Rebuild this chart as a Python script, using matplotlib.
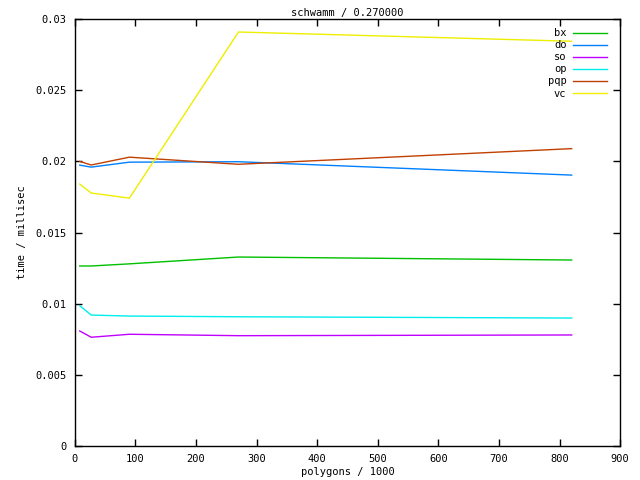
import matplotlib
matplotlib.use("Agg")
import matplotlib.pyplot as plt

# polygons (x 1000) and timings per method
polygons = [8, 27, 90, 270, 820]
bx = [0.01265, 0.01265, 0.01280, 0.01328, 0.01307]
do = [0.01974, 0.01960, 0.01995, 0.01998, 0.01904]
so = [0.00808, 0.00764, 0.00785, 0.00775, 0.00780]
op = [0.00986, 0.00920, 0.00913, 0.00908, 0.00899]
pqp = [0.02000, 0.01975, 0.02030, 0.01980, 0.02090]
vc = [0.01841, 0.01778, 0.01742, 0.02910, 0.02845]

xticks = list(range(0, 1000, 100))
yticks = [0, 0.005, 0.01, 0.015, 0.02, 0.025, 0.03]
ylabels = ["0", "0.005", "0.01", "0.015", "0.02", "0.025", "0.03"]

plt.rcParams['font.family'] = ['DejaVu Sans Mono']
plt.rcParams['font.size'] = 7.5

fig = plt.figure(figsize=(6.4, 4.8), dpi=100)
ax = fig.add_axes([0.117, 0.071, 0.852, 0.889])

series = [("bx", bx, "#00c000"), ("do", do, "#0080ff"), ("so", so, "#c000ff"),
          ("op", op, "#00eeee"), ("pqp", pqp, "#c04000"), ("vc", vc, "#eeee00")]
for name, ys, col in series:
    ax.plot(polygons, ys, color=col, lw=1, label=name)

ax.set_xlim(0, 900)
ax.set_ylim(0, 0.03)
ax.set_xticks(xticks)
ax.set_xticklabels([str(v) for v in xticks])
ax.set_yticks(yticks)
ax.set_yticklabels(ylabels)
ax.tick_params(direction='in', top=True, right=True, length=5, width=1, pad=6)
for s in ax.spines.values():
    s.set_linewidth(1)

ax.set_title("schwamm / 0.270000", pad=2, fontsize=7.5)
ax.set_xlabel("polygons / 1000", labelpad=2)
ax.set_ylabel("time / millisec", labelpad=6)

leg = ax.legend(loc='upper right', frameon=False, markerfirst=False,
                handlelength=3.3, handletextpad=0.6, labelspacing=0.2,
                borderpad=0, borderaxespad=0, bbox_to_anchor=(0.976, 0.979))
for t in leg.get_texts():
    t.set_ha('right')

fig.savefig("out.png", dpi=100)
